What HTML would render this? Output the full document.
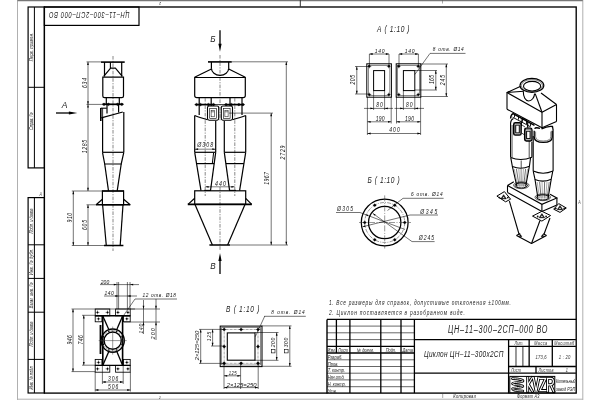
<!DOCTYPE html>
<html><head><meta charset="utf-8"><style>
html,body{margin:0;padding:0;background:#fff;}
svg{display:block;filter:grayscale(1) blur(0.25px);}
text{font-family:"Liberation Sans",sans-serif;}
</style></head><body>
<svg width="600" height="400" viewBox="0 0 600 400">
<rect width="600" height="400" fill="#fff"/>
<line x1="17.50" y1="0.00" x2="17.50" y2="400.00" stroke="#b0b0b0" stroke-width="1" />
<line x1="582.80" y1="0.00" x2="582.80" y2="400.00" stroke="#b0b0b0" stroke-width="1" />
<line x1="17.50" y1="0.60" x2="582.80" y2="0.60" stroke="#777" stroke-width="1.1" />
<line x1="17.50" y1="399.20" x2="582.80" y2="399.20" stroke="#b0b0b0" stroke-width="1" />
<line x1="300.30" y1="0.00" x2="300.30" y2="6.50" stroke="#333" stroke-width="1" />
<text x="0.00" y="0.00" font-size="4" font-style="italic" text-anchor="middle" fill="#111" transform="translate(160.00 2.00) rotate(180) scale(0.8 1)" >2</text>
<line x1="442.50" y1="0.00" x2="442.50" y2="3.50" stroke="#555" stroke-width="0.5" />
<rect x="44.40" y="7.00" width="531.80" height="386.10" rx="0" fill="none" stroke="#000" stroke-width="1.35"/>
<rect x="28.10" y="7.00" width="16.30" height="160.90" rx="0" fill="none" stroke="#000" stroke-width="1.2"/>
<line x1="34.40" y1="7.00" x2="34.40" y2="167.90" stroke="#000" stroke-width="1.0" />
<line x1="28.10" y1="87.30" x2="44.40" y2="87.30" stroke="#000" stroke-width="1.0" />
<rect x="28.10" y="197.60" width="16.30" height="195.40" rx="0" fill="none" stroke="#000" stroke-width="1.2"/>
<line x1="34.40" y1="197.60" x2="34.40" y2="393.00" stroke="#000" stroke-width="1.0" />
<line x1="28.10" y1="244.80" x2="44.40" y2="244.80" stroke="#000" stroke-width="1.0" />
<line x1="28.10" y1="278.40" x2="44.40" y2="278.40" stroke="#000" stroke-width="1.0" />
<line x1="28.10" y1="312.20" x2="44.40" y2="312.20" stroke="#000" stroke-width="1.0" />
<line x1="28.10" y1="359.40" x2="44.40" y2="359.40" stroke="#000" stroke-width="1.0" />
<text x="0.00" y="0.00" font-size="5.8" font-style="italic" text-anchor="middle" fill="#111" transform="translate(33.30 47.00) rotate(-90) scale(0.7 1)" textLength="40.71" lengthAdjust="spacing" >Перв. примен.</text>
<text x="0.00" y="0.00" font-size="5.8" font-style="italic" text-anchor="middle" fill="#111" transform="translate(33.30 121.20) rotate(-90) scale(0.7 1)" textLength="25.14" lengthAdjust="spacing" >Справ. №</text>
<text x="0.00" y="0.00" font-size="5.8" font-style="italic" text-anchor="middle" fill="#111" transform="translate(33.30 221.00) rotate(-90) scale(0.7 1)" textLength="35.71" lengthAdjust="spacing" >Подп. и дата</text>
<text x="0.00" y="0.00" font-size="5.8" font-style="italic" text-anchor="middle" fill="#111" transform="translate(33.30 261.80) rotate(-90) scale(0.7 1)" textLength="37.71" lengthAdjust="spacing" >Инв. № дубл.</text>
<text x="0.00" y="0.00" font-size="5.8" font-style="italic" text-anchor="middle" fill="#111" transform="translate(33.30 295.30) rotate(-90) scale(0.7 1)" textLength="37.14" lengthAdjust="spacing" >Взам. инв. №</text>
<text x="0.00" y="0.00" font-size="5.8" font-style="italic" text-anchor="middle" fill="#111" transform="translate(33.30 333.90) rotate(-90) scale(0.7 1)" textLength="35.71" lengthAdjust="spacing" >Подп. и дата</text>
<text x="0.00" y="0.00" font-size="5.8" font-style="italic" text-anchor="middle" fill="#111" transform="translate(33.30 377.50) rotate(-90) scale(0.7 1)" textLength="34.29" lengthAdjust="spacing" >Инв. № подл.</text>
<text x="0.00" y="0.00" font-size="4.5" font-style="italic" text-anchor="middle" fill="#444" transform="translate(40.60 195.80) scale(0.8 1)" >A</text>
<text x="0.00" y="0.00" font-size="4.5" font-style="italic" text-anchor="middle" fill="#444" transform="translate(579.40 203.50) scale(0.8 1)" >A</text>
<rect x="44.40" y="7.00" width="94.60" height="18.40" rx="0" fill="none" stroke="#000" stroke-width="1.2"/>
<text x="0.00" y="0.00" font-size="9.6" font-style="italic" text-anchor="middle" fill="#222" transform="translate(89.30 12.40) rotate(180) scale(0.6 1)" textLength="134.33" lengthAdjust="spacing" >ЦН–11–300–2СП–000 ВО</text>
<text x="0.00" y="0.00" font-size="4" font-style="italic" text-anchor="middle" fill="#444" transform="translate(160.00 398.50) scale(0.8 1)" >2</text>
<line x1="442.70" y1="394.00" x2="442.70" y2="398.00" stroke="#555" stroke-width="0.5" />
<text x="0.00" y="0.00" font-size="5.2" font-style="italic" text-anchor="start" fill="#222" transform="translate(453.30 398.30) scale(0.8 1)" textLength="28.37" lengthAdjust="spacing" >Копировал</text>
<text x="0.00" y="0.00" font-size="5.2" font-style="italic" text-anchor="start" fill="#222" transform="translate(517.00 398.30) scale(0.72 1)" textLength="31.11" lengthAdjust="spacing" >Формат А3</text>
<g transform="translate(0.4 0.4)">
<line x1="326.60" y1="319.00" x2="575.80" y2="319.00" stroke="#000" stroke-width="1.4" />
<line x1="326.60" y1="319.00" x2="326.60" y2="393.00" stroke="#000" stroke-width="1.4" />
<line x1="349.50" y1="319.00" x2="349.50" y2="392.70" stroke="#000" stroke-width="1.3" />
<line x1="380.40" y1="319.00" x2="380.40" y2="392.70" stroke="#000" stroke-width="1.3" />
<line x1="400.60" y1="319.00" x2="400.60" y2="392.70" stroke="#000" stroke-width="1.3" />
<line x1="414.00" y1="319.00" x2="414.00" y2="392.70" stroke="#000" stroke-width="1.3" />
<line x1="336.00" y1="319.00" x2="336.00" y2="352.60" stroke="#000" stroke-width="1.3" />
<line x1="326.60" y1="325.70" x2="414.00" y2="325.70" stroke="#000" stroke-width="0.6" />
<line x1="326.60" y1="332.40" x2="414.00" y2="332.40" stroke="#000" stroke-width="0.6" />
<line x1="326.60" y1="339.20" x2="414.00" y2="339.20" stroke="#000" stroke-width="0.6" />
<line x1="326.60" y1="345.90" x2="414.00" y2="345.90" stroke="#000" stroke-width="1.3" />
<line x1="326.60" y1="352.60" x2="414.00" y2="352.60" stroke="#000" stroke-width="1.3" />
<line x1="326.60" y1="359.40" x2="414.00" y2="359.40" stroke="#000" stroke-width="0.6" />
<line x1="326.60" y1="366.10" x2="414.00" y2="366.10" stroke="#000" stroke-width="0.6" />
<line x1="326.60" y1="372.80" x2="414.00" y2="372.80" stroke="#000" stroke-width="0.6" />
<line x1="326.60" y1="379.50" x2="414.00" y2="379.50" stroke="#000" stroke-width="0.6" />
<line x1="326.60" y1="386.30" x2="414.00" y2="386.30" stroke="#000" stroke-width="0.6" />
<text x="0.00" y="0.00" font-size="5.2" font-style="italic" text-anchor="middle" fill="#222" transform="translate(331.30 351.40) scale(0.75 1)" >Изм.</text>
<text x="0.00" y="0.00" font-size="5.2" font-style="italic" text-anchor="middle" fill="#222" transform="translate(342.70 351.40) scale(0.75 1)" >Лист</text>
<text x="0.00" y="0.00" font-size="5.2" font-style="italic" text-anchor="middle" fill="#222" transform="translate(365.00 351.40) scale(0.75 1)" >№ докум.</text>
<text x="0.00" y="0.00" font-size="5.2" font-style="italic" text-anchor="middle" fill="#222" transform="translate(390.50 351.40) scale(0.75 1)" >Подп.</text>
<text x="0.00" y="0.00" font-size="5.2" font-style="italic" text-anchor="middle" fill="#222" transform="translate(407.30 351.40) scale(0.75 1)" >Дата</text>
<text x="0.00" y="0.00" font-size="5.4" font-style="italic" text-anchor="start" fill="#222" transform="translate(327.30 358.50) scale(0.75 1)" >Разраб.</text>
<text x="0.00" y="0.00" font-size="5.4" font-style="italic" text-anchor="start" fill="#222" transform="translate(327.30 365.22) scale(0.75 1)" >Пров.</text>
<text x="0.00" y="0.00" font-size="5.4" font-style="italic" text-anchor="start" fill="#222" transform="translate(327.30 371.94) scale(0.75 1)" >Т. контр.</text>
<text x="0.00" y="0.00" font-size="5.4" font-style="italic" text-anchor="start" fill="#222" transform="translate(327.30 378.66) scale(0.75 1)" >Нач.отд.</text>
<text x="0.00" y="0.00" font-size="5.4" font-style="italic" text-anchor="start" fill="#222" transform="translate(327.30 385.38) scale(0.75 1)" >Н. контр.</text>
<text x="0.00" y="0.00" font-size="5.4" font-style="italic" text-anchor="start" fill="#222" transform="translate(327.30 392.10) scale(0.75 1)" >Утв.</text>
<line x1="414.00" y1="339.20" x2="575.50" y2="339.20" stroke="#000" stroke-width="1.3" />
<line x1="414.00" y1="372.80" x2="575.50" y2="372.80" stroke="#000" stroke-width="1.3" />
<line x1="508.20" y1="339.20" x2="508.20" y2="393.00" stroke="#000" stroke-width="1.3" />
<line x1="508.20" y1="345.90" x2="575.50" y2="345.90" stroke="#000" stroke-width="1.3" />
<line x1="508.20" y1="366.10" x2="575.50" y2="366.10" stroke="#000" stroke-width="1.3" />
<line x1="528.75" y1="339.20" x2="528.75" y2="366.10" stroke="#000" stroke-width="1.3" />
<line x1="551.90" y1="339.20" x2="551.90" y2="366.10" stroke="#000" stroke-width="1.3" />
<line x1="515.60" y1="345.90" x2="515.60" y2="366.10" stroke="#000" stroke-width="0.8" />
<line x1="522.50" y1="345.90" x2="522.50" y2="366.10" stroke="#000" stroke-width="0.8" />
<line x1="535.60" y1="366.10" x2="535.60" y2="372.80" stroke="#000" stroke-width="1.3" />
<text x="0.00" y="0.00" font-size="4.8" font-style="italic" text-anchor="middle" fill="#333" transform="translate(518.60 345.00) scale(0.8 1)" >Лит.</text>
<text x="0.00" y="0.00" font-size="4.8" font-style="italic" text-anchor="middle" fill="#333" transform="translate(540.30 345.00) scale(0.8 1)" textLength="16.25" lengthAdjust="spacing" >Масса</text>
<text x="0.00" y="0.00" font-size="4.8" font-style="italic" text-anchor="middle" fill="#333" transform="translate(563.80 345.00) scale(0.8 1)" textLength="25.00" lengthAdjust="spacing" >Масштаб</text>
<text x="0.00" y="0.00" font-size="6" font-style="italic" text-anchor="middle" fill="#333" transform="translate(540.70 358.50) scale(0.7 1)" textLength="15.71" lengthAdjust="spacing" >173,6</text>
<text x="0.00" y="0.00" font-size="6" font-style="italic" text-anchor="middle" fill="#333" transform="translate(564.20 358.50) scale(0.7 1)" textLength="16.43" lengthAdjust="spacing" >1 : 20</text>
<text x="0.00" y="0.00" font-size="4.8" font-style="italic" text-anchor="middle" fill="#333" transform="translate(515.50 371.80) scale(0.8 1)" >Лист</text>
<text x="0.00" y="0.00" font-size="4.8" font-style="italic" text-anchor="middle" fill="#333" transform="translate(545.50 371.80) scale(0.8 1)" textLength="18.75" lengthAdjust="spacing" >Листов</text>
<text x="0.00" y="0.00" font-size="4.8" font-style="italic" text-anchor="middle" fill="#333" transform="translate(566.50 371.80) scale(0.8 1)" >1</text>
<text x="0.00" y="0.00" font-size="10.4" font-style="italic" text-anchor="middle" fill="#222" transform="translate(497.30 332.30) scale(0.7 1)" textLength="142.29" lengthAdjust="spacing" >ЦН–11–300–2СП–000 ВО</text>
<text x="0.00" y="0.00" font-size="9.8" font-style="italic" text-anchor="middle" fill="#222" transform="translate(463.30 357.00) scale(0.66 1)" textLength="120.30" lengthAdjust="spacing" >Циклон ЦН–11–300х2СП</text>
<rect x="509.40" y="376.00" width="45.00" height="16.50" rx="0" fill="none" stroke="#000" stroke-width="1.0"/>
<path d="M527.3,377.3 V390.8 M531.8,377.3 L527.9,383.8 L531.9,390.8 M532.9,377.3 L535.7,390.8 L538.5,377.3 M539.6,377.9 H545.3 L539.6,390.2 H545.5 M547.2,390.8 V377.9 H550.3 Q553,377.9 553,381.2 Q553,384.4 550.3,384.4 H547.3 M550.2,384.4 L553.2,390.8" fill="none" stroke="#000" stroke-width="3.0" stroke-linejoin="miter" stroke-linecap="square"/>
<path d="M527.3,377.3 V390.8 M531.8,377.3 L527.9,383.8 L531.9,390.8 M532.9,377.3 L535.7,390.8 L538.5,377.3 M539.6,377.9 H545.3 L539.6,390.2 H545.5 M547.2,390.8 V377.9 H550.3 Q553,377.9 553,381.2 Q553,384.4 550.3,384.4 H547.3 M550.2,384.4 L553.2,390.8" fill="none" stroke="#fff" stroke-width="1.2" stroke-linejoin="miter" stroke-linecap="square"/>
<path d="M512,378.2 C519,378.2 523.5,379.6 522.5,380.8 C521.5,382 512,381.6 512,383.2 C512,384.8 522.5,384.2 522.5,385.8 C522.5,387.4 512,386.8 512,388.4 C512,390 519,390.6 522.5,390.6" fill="none" stroke="#000" stroke-width="2.6" stroke-linecap="round"/>
<path d="M512,378.2 C519,378.2 523.5,379.6 522.5,380.8 C521.5,382 512,381.6 512,383.2 C512,384.8 522.5,384.2 522.5,385.8 C522.5,387.4 512,386.8 512,388.4 C512,390 519,390.6 522.5,390.6" fill="none" stroke="#fff" stroke-width="0.9" stroke-linecap="round"/>
<text x="0.00" y="0.00" font-size="5.4" font-style="italic" text-anchor="start" fill="#222" transform="translate(555.60 382.80) scale(0.7 1)" textLength="27.71" lengthAdjust="spacing" >Котельный</text>
<text x="0.00" y="0.00" font-size="5.4" font-style="italic" text-anchor="start" fill="#222" transform="translate(555.60 390.40) scale(0.7 1)" textLength="27.43" lengthAdjust="spacing" >завод РЭП</text>
</g>
<text x="0.00" y="0.00" font-size="6.6" font-style="italic" text-anchor="start" fill="#222" transform="translate(328.90 304.90) scale(0.72 1)" textLength="252.78" lengthAdjust="spacing" >1. Все размеры для справок, допустимые отклонения ±100мм.</text>
<text x="0.00" y="0.00" font-size="6.6" font-style="italic" text-anchor="start" fill="#222" transform="translate(328.90 315.30) scale(0.72 1)" textLength="188.89" lengthAdjust="spacing" >2. Циклон поставляется в разобранном виде.</text>
<line x1="113.00" y1="56.00" x2="113.00" y2="251.00" stroke="#6a6a6a" stroke-width="0.8" stroke-dasharray="3.6 1.3 1.2 1.3"/>
<line x1="101.00" y1="62.10" x2="124.70" y2="62.10" stroke="#000" stroke-width="1.6" />
<line x1="104.50" y1="62.00" x2="104.50" y2="76.50" stroke="#000" stroke-width="1.2" />
<line x1="121.70" y1="62.00" x2="121.70" y2="76.50" stroke="#000" stroke-width="1.2" />
<line x1="110.40" y1="62.00" x2="110.40" y2="68.20" stroke="#000" stroke-width="1.1" />
<polyline points="103.70,76.40 110.60,68.20 115.40,68.20 122.30,76.40" fill="none" stroke="#000" stroke-width="1.2" stroke-linejoin="round"/>
<path d="M102.8,77.2 L123.5,77.2 L123.5,96 Q123.5,97.7 121.8,97.7 L104.5,97.7 Q102.8,97.7 102.8,96 Z" fill="none" stroke="#000" stroke-width="1.2" />
<line x1="106.30" y1="97.70" x2="106.30" y2="104.30" stroke="#000" stroke-width="1.2" />
<line x1="119.30" y1="97.70" x2="119.30" y2="104.30" stroke="#000" stroke-width="1.2" />
<line x1="102.50" y1="104.30" x2="123.20" y2="104.30" stroke="#000" stroke-width="1.7" />
<polygon points="102.20,104.30 104.00,102.90 105.80,104.30 104.00,105.70" fill="#000" stroke="#000" stroke-width="0.3" stroke-linejoin="round"/>
<polygon points="106.60,104.30 108.40,102.90 110.20,104.30 108.40,105.70" fill="#000" stroke="#000" stroke-width="0.3" stroke-linejoin="round"/>
<polygon points="115.80,104.30 117.60,102.90 119.40,104.30 117.60,105.70" fill="#000" stroke="#000" stroke-width="0.3" stroke-linejoin="round"/>
<polygon points="120.00,104.30 121.80,102.90 123.60,104.30 121.80,105.70" fill="#000" stroke="#000" stroke-width="0.3" stroke-linejoin="round"/>
<line x1="107.00" y1="104.30" x2="107.00" y2="113.50" stroke="#000" stroke-width="1.2" />
<line x1="118.60" y1="104.30" x2="118.60" y2="112.50" stroke="#000" stroke-width="1.2" />
<line x1="100.80" y1="108.00" x2="100.80" y2="121.00" stroke="#000" stroke-width="1.6" />
<line x1="100.80" y1="108.20" x2="106.80" y2="108.20" stroke="#000" stroke-width="1.1" />
<line x1="102.60" y1="108.20" x2="102.60" y2="117.70" stroke="#000" stroke-width="0.8" />
<line x1="101.30" y1="117.90" x2="122.80" y2="112.00" stroke="#000" stroke-width="1.2" />
<line x1="102.60" y1="117.70" x2="102.60" y2="152.30" stroke="#000" stroke-width="1.2" />
<line x1="123.80" y1="112.00" x2="123.80" y2="152.30" stroke="#000" stroke-width="1.2" />
<line x1="102.50" y1="152.30" x2="123.80" y2="152.30" stroke="#000" stroke-width="1.2" />
<polyline points="102.50,152.30 104.70,164.00 121.20,164.00 123.80,152.30" fill="none" stroke="#000" stroke-width="1.2" stroke-linejoin="round"/>
<polyline points="104.70,164.00 108.50,190.80" fill="none" stroke="#000" stroke-width="1.2" stroke-linejoin="round"/>
<polyline points="121.20,164.00 117.20,190.80" fill="none" stroke="#000" stroke-width="1.2" stroke-linejoin="round"/>
<rect x="102.40" y="191.00" width="21.20" height="13.80" rx="0" fill="none" stroke="#000" stroke-width="1.2"/>
<line x1="102.00" y1="191.00" x2="124.00" y2="191.00" stroke="#000" stroke-width="1.35" />
<polyline points="96.10,204.80 102.40,199.20" fill="none" stroke="#000" stroke-width="1.2" stroke-linejoin="round"/>
<polyline points="123.60,199.20 130.20,204.80" fill="none" stroke="#000" stroke-width="1.2" stroke-linejoin="round"/>
<line x1="96.00" y1="204.80" x2="130.30" y2="204.80" stroke="#000" stroke-width="1.4" />
<polyline points="102.60,204.80 106.30,245.50" fill="none" stroke="#000" stroke-width="1.2" stroke-linejoin="round"/>
<polyline points="123.00,204.80 120.20,245.50" fill="none" stroke="#000" stroke-width="1.2" stroke-linejoin="round"/>
<line x1="104.00" y1="245.50" x2="123.40" y2="245.50" stroke="#000" stroke-width="1.5" />
<line x1="86.50" y1="61.90" x2="101.00" y2="61.90" stroke="#000" stroke-width="0.55" />
<line x1="86.50" y1="104.40" x2="102.00" y2="104.40" stroke="#000" stroke-width="0.55" />
<line x1="71.80" y1="191.00" x2="102.00" y2="191.00" stroke="#000" stroke-width="0.55" />
<line x1="86.50" y1="204.80" x2="96.00" y2="204.80" stroke="#000" stroke-width="0.55" />
<line x1="71.80" y1="245.50" x2="104.00" y2="245.50" stroke="#000" stroke-width="0.55" />
<line x1="88.00" y1="61.90" x2="88.00" y2="191.00" stroke="#000" stroke-width="0.55" />
<polygon points="88.00,61.90 88.90,65.10 87.10,65.10" fill="#000"/>
<polygon points="88.00,104.40 87.10,101.20 88.90,101.20" fill="#000"/>
<polygon points="88.00,104.40 88.90,107.60 87.10,107.60" fill="#000"/>
<polygon points="88.00,191.00 87.10,187.80 88.90,187.80" fill="#000"/>
<text x="0.00" y="0.00" font-size="6.4" font-style="italic" text-anchor="middle" fill="#111" transform="translate(87.20 83.00) rotate(-90) scale(0.8 1)" textLength="12.50" lengthAdjust="spacing" >634</text>
<text x="0.00" y="0.00" font-size="6.4" font-style="italic" text-anchor="middle" fill="#111" transform="translate(87.20 146.60) rotate(-90) scale(0.8 1)" textLength="16.88" lengthAdjust="spacing" >1285</text>
<line x1="73.30" y1="191.00" x2="73.30" y2="245.50" stroke="#000" stroke-width="0.55" />
<polygon points="73.30,191.00 74.20,194.20 72.40,194.20" fill="#000"/>
<polygon points="73.30,245.50 72.40,242.30 74.20,242.30" fill="#000"/>
<text x="0.00" y="0.00" font-size="6.4" font-style="italic" text-anchor="middle" fill="#111" transform="translate(72.40 217.70) rotate(-90) scale(0.8 1)" textLength="12.00" lengthAdjust="spacing" >910</text>
<line x1="88.00" y1="204.80" x2="88.00" y2="245.50" stroke="#000" stroke-width="0.55" />
<polygon points="88.00,204.80 88.90,208.00 87.10,208.00" fill="#000"/>
<polygon points="88.00,245.50 87.10,242.30 88.90,242.30" fill="#000"/>
<text x="0.00" y="0.00" font-size="6.4" font-style="italic" text-anchor="middle" fill="#111" transform="translate(86.60 225.00) rotate(-90) scale(0.8 1)" textLength="12.50" lengthAdjust="spacing" >605</text>
<text x="0.00" y="0.00" font-size="9" font-style="italic" text-anchor="middle" fill="#222" transform="translate(64.60 108.20) scale(0.95 1)" >A</text>
<line x1="56.00" y1="113.00" x2="70.00" y2="113.00" stroke="#000" stroke-width="1.3" />
<polygon points="77.40,113.00 68.90,114.60 68.90,111.40" fill="#000"/>
<line x1="220.00" y1="55.00" x2="220.00" y2="121.00" stroke="#6a6a6a" stroke-width="0.8" stroke-dasharray="3.6 1.3 1.2 1.3"/>
<line x1="220.00" y1="187.00" x2="220.00" y2="251.00" stroke="#6a6a6a" stroke-width="0.8" stroke-dasharray="3.6 1.3 1.2 1.3"/>
<text x="0.00" y="0.00" font-size="8.6" font-style="italic" text-anchor="middle" fill="#222" transform="translate(213.00 42.20) scale(0.95 1)" >Б</text>
<line x1="220.00" y1="30.20" x2="220.00" y2="45.00" stroke="#000" stroke-width="1.3" />
<polygon points="220.00,51.80 218.40,43.80 221.60,43.80" fill="#000"/>
<line x1="208.00" y1="61.90" x2="231.80" y2="61.90" stroke="#000" stroke-width="1.6" />
<line x1="211.40" y1="62.00" x2="211.40" y2="68.50" stroke="#000" stroke-width="1.2" />
<line x1="228.70" y1="62.00" x2="228.70" y2="68.50" stroke="#000" stroke-width="1.2" />
<path d="M211.4,68.3 A8.65,7 0 0 0 228.7,68.3" fill="none" stroke="#000" stroke-width="1.2" />
<line x1="211.40" y1="69.00" x2="194.60" y2="77.30" stroke="#000" stroke-width="1.2" />
<line x1="228.70" y1="69.00" x2="245.30" y2="77.30" stroke="#000" stroke-width="1.2" />
<path d="M194.7,77.5 L245.3,77.5 L245.3,95.5 Q245.3,97.7 243.1,97.7 L196.9,97.7 Q194.7,97.7 194.7,95.5 Z" fill="none" stroke="#000" stroke-width="1.2" />
<line x1="199.20" y1="97.70" x2="199.20" y2="115.00" stroke="#000" stroke-width="1.2" />
<line x1="211.20" y1="97.70" x2="211.20" y2="115.00" stroke="#000" stroke-width="1.2" />
<line x1="230.00" y1="97.70" x2="230.00" y2="115.00" stroke="#000" stroke-width="1.2" />
<line x1="242.00" y1="97.70" x2="242.00" y2="115.00" stroke="#000" stroke-width="1.2" />
<line x1="205.20" y1="98.00" x2="205.20" y2="196.00" stroke="#6a6a6a" stroke-width="0.8" stroke-dasharray="3.6 1.3 1.2 1.3"/>
<line x1="234.80" y1="98.00" x2="234.80" y2="196.00" stroke="#6a6a6a" stroke-width="0.8" stroke-dasharray="3.6 1.3 1.2 1.3"/>
<line x1="196.20" y1="104.60" x2="214.00" y2="104.60" stroke="#000" stroke-width="1.7" />
<line x1="225.60" y1="104.60" x2="243.50" y2="104.60" stroke="#000" stroke-width="1.7" />
<line x1="214.00" y1="104.60" x2="225.60" y2="104.60" stroke="#000" stroke-width="0.8" />
<polygon points="194.60,104.60 196.40,103.20 198.20,104.60 196.40,106.00" fill="#000" stroke="#000" stroke-width="0.3" stroke-linejoin="round"/>
<polygon points="198.60,104.60 200.40,103.20 202.20,104.60 200.40,106.00" fill="#000" stroke="#000" stroke-width="0.3" stroke-linejoin="round"/>
<polygon points="206.60,104.60 208.40,103.20 210.20,104.60 208.40,106.00" fill="#000" stroke="#000" stroke-width="0.3" stroke-linejoin="round"/>
<polygon points="211.80,104.60 213.60,103.20 215.40,104.60 213.60,106.00" fill="#000" stroke="#000" stroke-width="0.3" stroke-linejoin="round"/>
<polygon points="224.20,104.60 226.00,103.20 227.80,104.60 226.00,106.00" fill="#000" stroke="#000" stroke-width="0.3" stroke-linejoin="round"/>
<polygon points="229.50,104.60 231.30,103.20 233.10,104.60 231.30,106.00" fill="#000" stroke="#000" stroke-width="0.3" stroke-linejoin="round"/>
<polygon points="237.10,104.60 238.90,103.20 240.70,104.60 238.90,106.00" fill="#000" stroke="#000" stroke-width="0.3" stroke-linejoin="round"/>
<polygon points="241.20,104.60 243.00,103.20 244.80,104.60 243.00,106.00" fill="#000" stroke="#000" stroke-width="0.3" stroke-linejoin="round"/>
<rect x="207.50" y="106.00" width="11.20" height="14.20" rx="1.6" fill="#fff" stroke="#000" stroke-width="1.1"/>
<rect x="209.70" y="108.60" width="6.60" height="9.80" rx="0" fill="none" stroke="#000" stroke-width="0.6"/>
<rect x="211.10" y="110.40" width="3.20" height="6.40" rx="0" fill="none" stroke="#000" stroke-width="0.5"/>
<line x1="211.10" y1="111.80" x2="214.30" y2="111.80" stroke="#000" stroke-width="0.5" />
<rect x="221.30" y="106.00" width="11.20" height="14.20" rx="1.6" fill="#fff" stroke="#000" stroke-width="1.1"/>
<rect x="223.50" y="108.60" width="6.60" height="9.80" rx="0" fill="none" stroke="#000" stroke-width="0.6"/>
<rect x="224.90" y="110.40" width="3.20" height="6.40" rx="0" fill="none" stroke="#000" stroke-width="0.5"/>
<line x1="224.90" y1="111.80" x2="228.10" y2="111.80" stroke="#000" stroke-width="0.5" />
<line x1="194.70" y1="115.50" x2="194.70" y2="152.30" stroke="#000" stroke-width="1.2" />
<line x1="215.70" y1="121.00" x2="215.70" y2="152.30" stroke="#000" stroke-width="1.2" />
<line x1="224.30" y1="121.00" x2="224.30" y2="152.30" stroke="#000" stroke-width="1.2" />
<line x1="245.70" y1="115.50" x2="245.70" y2="152.30" stroke="#000" stroke-width="1.2" />
<path d="M194.7,115.5 Q199,117.2 207.5,119.8" fill="none" stroke="#000" stroke-width="1.2" />
<path d="M245.7,115.5 Q241,117.2 232.5,119.8" fill="none" stroke="#000" stroke-width="1.2" />
<line x1="194.70" y1="152.30" x2="215.70" y2="152.30" stroke="#000" stroke-width="1.2" />
<line x1="224.30" y1="152.30" x2="245.70" y2="152.30" stroke="#000" stroke-width="1.2" />
<line x1="194.90" y1="149.20" x2="215.50" y2="149.20" stroke="#000" stroke-width="0.5" />
<polygon points="194.90,149.20 198.10,148.30 198.10,150.10" fill="#000"/>
<polygon points="215.50,149.20 212.30,150.10 212.30,148.30" fill="#000"/>
<text x="0.00" y="0.00" font-size="6.6" font-style="italic" text-anchor="middle" fill="#111" transform="translate(205.20 147.20) scale(0.8 1)" textLength="20.00" lengthAdjust="spacing" >Ø308</text>
<line x1="194.70" y1="152.30" x2="201.00" y2="190.60" stroke="#000" stroke-width="1.2" />
<line x1="215.70" y1="152.30" x2="210.50" y2="190.60" stroke="#000" stroke-width="1.2" />
<line x1="196.56" y1="163.60" x2="214.17" y2="163.60" stroke="#000" stroke-width="1.2" />
<line x1="224.30" y1="152.30" x2="229.60" y2="190.60" stroke="#000" stroke-width="1.2" />
<line x1="245.70" y1="152.30" x2="239.60" y2="190.60" stroke="#000" stroke-width="1.2" />
<line x1="225.86" y1="163.60" x2="243.90" y2="163.60" stroke="#000" stroke-width="1.2" />
<line x1="213.60" y1="152.80" x2="212.30" y2="163.60" stroke="#000" stroke-width="1.0" />
<line x1="204.20" y1="190.40" x2="211.00" y2="190.40" stroke="#000" stroke-width="1.1" />
<line x1="229.00" y1="190.40" x2="236.00" y2="190.40" stroke="#000" stroke-width="1.1" />
<line x1="205.40" y1="186.80" x2="234.60" y2="186.80" stroke="#000" stroke-width="0.5" />
<polygon points="205.40,186.80 208.60,185.90 208.60,187.70" fill="#000"/>
<polygon points="234.60,186.80 231.40,187.70 231.40,185.90" fill="#000"/>
<text x="0.00" y="0.00" font-size="6.6" font-style="italic" text-anchor="middle" fill="#111" transform="translate(220.50 185.80) scale(0.8 1)" textLength="13.75" lengthAdjust="spacing" >440</text>
<rect x="194.70" y="190.80" width="51.00" height="13.60" rx="0" fill="none" stroke="#000" stroke-width="1.2"/>
<polyline points="188.00,204.40 194.70,198.30" fill="none" stroke="#000" stroke-width="1.2" stroke-linejoin="round"/>
<polyline points="245.70,198.30 251.70,204.40" fill="none" stroke="#000" stroke-width="1.2" stroke-linejoin="round"/>
<line x1="187.80" y1="204.40" x2="251.80" y2="204.40" stroke="#000" stroke-width="1.6" />
<line x1="195.00" y1="204.40" x2="212.40" y2="245.00" stroke="#000" stroke-width="1.2" />
<line x1="245.00" y1="204.40" x2="227.60" y2="245.00" stroke="#000" stroke-width="1.2" />
<line x1="209.40" y1="245.00" x2="230.00" y2="245.00" stroke="#000" stroke-width="1.5" />
<text x="0.00" y="0.00" font-size="8.6" font-style="italic" text-anchor="middle" fill="#222" transform="translate(213.00 269.20) scale(0.95 1)" >В</text>
<line x1="220.00" y1="259.00" x2="220.00" y2="274.00" stroke="#000" stroke-width="1.3" />
<polygon points="220.00,253.00 221.60,261.00 218.40,261.00" fill="#000"/>
<line x1="232.00" y1="61.80" x2="288.00" y2="61.80" stroke="#000" stroke-width="0.55" />
<line x1="229.00" y1="113.10" x2="273.00" y2="113.10" stroke="#000" stroke-width="0.55" />
<line x1="230.00" y1="245.00" x2="288.00" y2="245.00" stroke="#000" stroke-width="0.55" />
<line x1="286.30" y1="61.80" x2="286.30" y2="245.00" stroke="#000" stroke-width="0.55" />
<polygon points="286.30,61.80 287.20,65.00 285.40,65.00" fill="#000"/>
<polygon points="286.30,245.00 285.40,241.80 287.20,241.80" fill="#000"/>
<line x1="271.20" y1="113.10" x2="271.20" y2="245.00" stroke="#000" stroke-width="0.55" />
<polygon points="271.20,113.10 272.10,116.30 270.30,116.30" fill="#000"/>
<polygon points="271.20,245.00 270.30,241.80 272.10,241.80" fill="#000"/>
<text x="0.00" y="0.00" font-size="6.4" font-style="italic" text-anchor="middle" fill="#111" transform="translate(285.00 152.50) rotate(-90) scale(0.8 1)" textLength="17.25" lengthAdjust="spacing" >2729</text>
<text x="0.00" y="0.00" font-size="6.4" font-style="italic" text-anchor="middle" fill="#111" transform="translate(269.40 178.40) rotate(-90) scale(0.8 1)" textLength="15.62" lengthAdjust="spacing" >1967</text>
<text x="0.00" y="0.00" font-size="9.4" font-style="italic" text-anchor="middle" fill="#222" transform="translate(393.30 31.50) scale(0.7 1)" textLength="46.43" lengthAdjust="spacing" >А ( 1:10 )</text>
<rect x="366.80" y="63.80" width="24.60" height="33.40" rx="0" fill="none" stroke="#000" stroke-width="1.0"/>
<rect x="368.30" y="65.30" width="21.60" height="30.40" rx="0" fill="none" stroke="#000" stroke-width="0.45"/>
<rect x="373.60" y="70.60" width="11.00" height="20.00" rx="0" fill="none" stroke="#000" stroke-width="1.0"/>
<circle cx="369.40" cy="66.40" r="1.15" fill="#000" stroke="#000" stroke-width="0" />
<line x1="367.40" y1="66.40" x2="371.40" y2="66.40" stroke="#000" stroke-width="0.4" />
<line x1="369.40" y1="64.40" x2="369.40" y2="68.40" stroke="#000" stroke-width="0.4" />
<circle cx="369.40" cy="94.60" r="1.15" fill="#000" stroke="#000" stroke-width="0" />
<line x1="367.40" y1="94.60" x2="371.40" y2="94.60" stroke="#000" stroke-width="0.4" />
<line x1="369.40" y1="92.60" x2="369.40" y2="96.60" stroke="#000" stroke-width="0.4" />
<circle cx="388.80" cy="66.40" r="1.15" fill="#000" stroke="#000" stroke-width="0" />
<line x1="386.80" y1="66.40" x2="390.80" y2="66.40" stroke="#000" stroke-width="0.4" />
<line x1="388.80" y1="64.40" x2="388.80" y2="68.40" stroke="#000" stroke-width="0.4" />
<circle cx="388.80" cy="94.60" r="1.15" fill="#000" stroke="#000" stroke-width="0" />
<line x1="386.80" y1="94.60" x2="390.80" y2="94.60" stroke="#000" stroke-width="0.4" />
<line x1="388.80" y1="92.60" x2="388.80" y2="96.60" stroke="#000" stroke-width="0.4" />
<rect x="396.20" y="63.80" width="24.60" height="33.40" rx="0" fill="none" stroke="#000" stroke-width="1.0"/>
<rect x="397.70" y="65.30" width="21.60" height="30.40" rx="0" fill="none" stroke="#000" stroke-width="0.45"/>
<rect x="403.40" y="70.60" width="11.40" height="20.00" rx="0" fill="none" stroke="#000" stroke-width="1.0"/>
<circle cx="398.80" cy="66.40" r="1.15" fill="#000" stroke="#000" stroke-width="0" />
<line x1="396.80" y1="66.40" x2="400.80" y2="66.40" stroke="#000" stroke-width="0.4" />
<line x1="398.80" y1="64.40" x2="398.80" y2="68.40" stroke="#000" stroke-width="0.4" />
<circle cx="398.80" cy="94.60" r="1.15" fill="#000" stroke="#000" stroke-width="0" />
<line x1="396.80" y1="94.60" x2="400.80" y2="94.60" stroke="#000" stroke-width="0.4" />
<line x1="398.80" y1="92.60" x2="398.80" y2="96.60" stroke="#000" stroke-width="0.4" />
<circle cx="418.20" cy="66.40" r="1.15" fill="#000" stroke="#000" stroke-width="0" />
<line x1="416.20" y1="66.40" x2="420.20" y2="66.40" stroke="#000" stroke-width="0.4" />
<line x1="418.20" y1="64.40" x2="418.20" y2="68.40" stroke="#000" stroke-width="0.4" />
<circle cx="418.20" cy="94.60" r="1.15" fill="#000" stroke="#000" stroke-width="0" />
<line x1="416.20" y1="94.60" x2="420.20" y2="94.60" stroke="#000" stroke-width="0.4" />
<line x1="418.20" y1="92.60" x2="418.20" y2="96.60" stroke="#000" stroke-width="0.4" />
<line x1="369.40" y1="54.00" x2="369.40" y2="66.00" stroke="#000" stroke-width="0.55" />
<line x1="389.00" y1="54.00" x2="389.00" y2="66.00" stroke="#000" stroke-width="0.55" />
<line x1="369.40" y1="54.00" x2="389.00" y2="54.00" stroke="#000" stroke-width="0.55" />
<polygon points="369.40,54.00 372.60,53.10 372.60,54.90" fill="#000"/>
<polygon points="389.00,54.00 385.80,54.90 385.80,53.10" fill="#000"/>
<text x="0.00" y="0.00" font-size="6.2" font-style="italic" text-anchor="middle" fill="#111" transform="translate(379.70 52.80) scale(0.8 1)" textLength="12.25" lengthAdjust="spacing" >140</text>
<line x1="399.00" y1="54.00" x2="399.00" y2="66.00" stroke="#000" stroke-width="0.55" />
<line x1="418.40" y1="54.00" x2="418.40" y2="66.00" stroke="#000" stroke-width="0.55" />
<line x1="399.00" y1="54.00" x2="418.40" y2="54.00" stroke="#000" stroke-width="0.55" />
<polygon points="399.00,54.00 402.20,53.10 402.20,54.90" fill="#000"/>
<polygon points="418.40,54.00 415.20,54.90 415.20,53.10" fill="#000"/>
<text x="0.00" y="0.00" font-size="6.2" font-style="italic" text-anchor="middle" fill="#111" transform="translate(409.60 52.80) scale(0.8 1)" textLength="12.25" lengthAdjust="spacing" >140</text>
<text x="0.00" y="0.00" font-size="6.0" font-style="italic" text-anchor="middle" fill="#111" transform="translate(448.30 51.00) scale(0.8 1)" textLength="38.75" lengthAdjust="spacing" >8 отв. Ø14</text>
<line x1="430.00" y1="53.40" x2="465.50" y2="53.40" stroke="#000" stroke-width="0.55" />
<line x1="430.00" y1="53.40" x2="414.80" y2="74.50" stroke="#000" stroke-width="0.55" />
<line x1="355.00" y1="66.50" x2="369.00" y2="66.50" stroke="#000" stroke-width="0.55" />
<line x1="355.00" y1="94.00" x2="369.00" y2="94.00" stroke="#000" stroke-width="0.55" />
<line x1="356.80" y1="66.50" x2="356.80" y2="94.00" stroke="#000" stroke-width="0.55" />
<polygon points="356.80,66.50 357.70,69.70 355.90,69.70" fill="#000"/>
<polygon points="356.80,94.00 355.90,90.80 357.70,90.80" fill="#000"/>
<text x="0.00" y="0.00" font-size="6.3" font-style="italic" text-anchor="middle" fill="#111" transform="translate(355.40 79.80) rotate(-90) scale(0.8 1)" textLength="11.88" lengthAdjust="spacing" >205</text>
<line x1="414.80" y1="70.50" x2="437.00" y2="70.50" stroke="#000" stroke-width="0.55" />
<line x1="414.80" y1="90.00" x2="437.00" y2="90.00" stroke="#000" stroke-width="0.55" />
<line x1="435.80" y1="70.50" x2="435.80" y2="90.00" stroke="#000" stroke-width="0.55" />
<polygon points="435.80,70.50 436.70,73.70 434.90,73.70" fill="#000"/>
<polygon points="435.80,90.00 434.90,86.80 436.70,86.80" fill="#000"/>
<text x="0.00" y="0.00" font-size="6.3" font-style="italic" text-anchor="middle" fill="#111" transform="translate(434.30 79.50) rotate(-90) scale(0.8 1)" textLength="11.50" lengthAdjust="spacing" >165</text>
<line x1="420.80" y1="64.00" x2="448.00" y2="64.00" stroke="#000" stroke-width="0.55" />
<line x1="420.80" y1="96.50" x2="448.00" y2="96.50" stroke="#000" stroke-width="0.55" />
<line x1="446.30" y1="64.00" x2="446.30" y2="96.50" stroke="#000" stroke-width="0.55" />
<polygon points="446.30,64.00 447.20,67.20 445.40,67.20" fill="#000"/>
<polygon points="446.30,96.50 445.40,93.30 447.20,93.30" fill="#000"/>
<text x="0.00" y="0.00" font-size="6.3" font-style="italic" text-anchor="middle" fill="#111" transform="translate(444.50 80.20) rotate(-90) scale(0.8 1)" textLength="12.88" lengthAdjust="spacing" >245</text>
<line x1="373.60" y1="91.00" x2="373.60" y2="110.00" stroke="#000" stroke-width="0.55" />
<line x1="384.60" y1="91.00" x2="384.60" y2="110.00" stroke="#000" stroke-width="0.55" />
<line x1="403.40" y1="91.00" x2="403.40" y2="110.00" stroke="#000" stroke-width="0.55" />
<line x1="414.80" y1="91.00" x2="414.80" y2="110.00" stroke="#000" stroke-width="0.55" />
<line x1="391.20" y1="97.00" x2="391.20" y2="123.50" stroke="#000" stroke-width="0.55" />
<line x1="396.50" y1="97.00" x2="396.50" y2="123.50" stroke="#000" stroke-width="0.55" />
<line x1="367.40" y1="97.00" x2="367.40" y2="135.00" stroke="#000" stroke-width="0.55" />
<line x1="420.60" y1="97.00" x2="420.60" y2="135.00" stroke="#000" stroke-width="0.55" />
<line x1="364.00" y1="108.40" x2="393.00" y2="108.40" stroke="#000" stroke-width="0.55" />
<polygon points="373.60,108.40 370.40,109.30 370.40,107.50" fill="#000"/>
<polygon points="384.60,108.40 387.80,107.50 387.80,109.30" fill="#000"/>
<line x1="394.50" y1="108.40" x2="424.00" y2="108.40" stroke="#000" stroke-width="0.55" />
<polygon points="403.40,108.40 400.20,109.30 400.20,107.50" fill="#000"/>
<polygon points="414.80,108.40 418.00,107.50 418.00,109.30" fill="#000"/>
<text x="0.00" y="0.00" font-size="6.3" font-style="italic" text-anchor="middle" fill="#111" transform="translate(379.50 106.80) scale(0.8 1)" textLength="8.12" lengthAdjust="spacing" >80</text>
<text x="0.00" y="0.00" font-size="6.3" font-style="italic" text-anchor="middle" fill="#111" transform="translate(409.20 106.80) scale(0.8 1)" textLength="8.12" lengthAdjust="spacing" >80</text>
<line x1="367.40" y1="121.80" x2="391.20" y2="121.80" stroke="#000" stroke-width="0.55" />
<polygon points="367.40,121.80 370.60,120.90 370.60,122.70" fill="#000"/>
<polygon points="391.20,121.80 388.00,122.70 388.00,120.90" fill="#000"/>
<line x1="396.50" y1="121.80" x2="420.60" y2="121.80" stroke="#000" stroke-width="0.55" />
<polygon points="396.50,121.80 399.70,120.90 399.70,122.70" fill="#000"/>
<polygon points="420.60,121.80 417.40,122.70 417.40,120.90" fill="#000"/>
<text x="0.00" y="0.00" font-size="6.3" font-style="italic" text-anchor="middle" fill="#111" transform="translate(380.10 120.70) scale(0.8 1)" textLength="11.00" lengthAdjust="spacing" >190</text>
<text x="0.00" y="0.00" font-size="6.3" font-style="italic" text-anchor="middle" fill="#111" transform="translate(409.50 120.70) scale(0.8 1)" textLength="11.25" lengthAdjust="spacing" >190</text>
<line x1="367.40" y1="133.50" x2="420.60" y2="133.50" stroke="#000" stroke-width="0.55" />
<polygon points="367.40,133.50 370.60,132.60 370.60,134.40" fill="#000"/>
<polygon points="420.60,133.50 417.40,134.40 417.40,132.60" fill="#000"/>
<text x="0.00" y="0.00" font-size="6.3" font-style="italic" text-anchor="middle" fill="#111" transform="translate(394.50 132.20) scale(0.8 1)" textLength="13.12" lengthAdjust="spacing" >400</text>
<text x="0.00" y="0.00" font-size="9.4" font-style="italic" text-anchor="middle" fill="#222" transform="translate(383.60 183.10) scale(0.7 1)" textLength="46.00" lengthAdjust="spacing" >Б ( 1:10 )</text>
<circle cx="384.70" cy="222.50" r="23.40" fill="none" stroke="#000" stroke-width="1.25" />
<circle cx="384.70" cy="222.50" r="16.20" fill="none" stroke="#000" stroke-width="1.25" />
<circle cx="384.70" cy="222.50" r="20.00" fill="none" stroke="#333" stroke-width="0.5" stroke-dasharray="4 1.2 1 1.2"/>
<line x1="359.00" y1="222.50" x2="411.00" y2="222.50" stroke="#333" stroke-width="0.5" stroke-dasharray="6 1.5 1 1.5"/>
<line x1="384.70" y1="195.40" x2="384.70" y2="248.50" stroke="#333" stroke-width="0.5" stroke-dasharray="6 1.5 1 1.5"/>
<circle cx="404.70" cy="222.50" r="1.30" fill="#000" stroke="#000" stroke-width="0" />
<line x1="402.70" y1="222.50" x2="406.70" y2="222.50" stroke="#000" stroke-width="0.4" />
<line x1="404.70" y1="220.50" x2="404.70" y2="224.50" stroke="#000" stroke-width="0.4" />
<circle cx="394.70" cy="239.82" r="1.30" fill="#000" stroke="#000" stroke-width="0" />
<line x1="392.70" y1="239.82" x2="396.70" y2="239.82" stroke="#000" stroke-width="0.4" />
<line x1="394.70" y1="237.82" x2="394.70" y2="241.82" stroke="#000" stroke-width="0.4" />
<circle cx="374.70" cy="239.82" r="1.30" fill="#000" stroke="#000" stroke-width="0" />
<line x1="372.70" y1="239.82" x2="376.70" y2="239.82" stroke="#000" stroke-width="0.4" />
<line x1="374.70" y1="237.82" x2="374.70" y2="241.82" stroke="#000" stroke-width="0.4" />
<circle cx="364.70" cy="222.50" r="1.30" fill="#000" stroke="#000" stroke-width="0" />
<line x1="362.70" y1="222.50" x2="366.70" y2="222.50" stroke="#000" stroke-width="0.4" />
<line x1="364.70" y1="220.50" x2="364.70" y2="224.50" stroke="#000" stroke-width="0.4" />
<circle cx="374.70" cy="205.18" r="1.30" fill="#000" stroke="#000" stroke-width="0" />
<line x1="372.70" y1="205.18" x2="376.70" y2="205.18" stroke="#000" stroke-width="0.4" />
<line x1="374.70" y1="203.18" x2="374.70" y2="207.18" stroke="#000" stroke-width="0.4" />
<circle cx="394.70" cy="205.18" r="1.30" fill="#000" stroke="#000" stroke-width="0" />
<line x1="392.70" y1="205.18" x2="396.70" y2="205.18" stroke="#000" stroke-width="0.4" />
<line x1="394.70" y1="203.18" x2="394.70" y2="207.18" stroke="#000" stroke-width="0.4" />
<line x1="336.00" y1="212.50" x2="360.00" y2="212.50" stroke="#000" stroke-width="0.55" />
<line x1="360.00" y1="212.50" x2="405.00" y2="229.50" stroke="#000" stroke-width="0.55" />
<polygon points="365.30,214.50 368.21,214.70 367.66,216.20" fill="#000"/>
<line x1="438.00" y1="215.00" x2="410.00" y2="215.00" stroke="#000" stroke-width="0.55" />
<line x1="410.00" y1="215.00" x2="362.50" y2="226.80" stroke="#000" stroke-width="0.55" />
<polygon points="362.60,226.80 365.13,225.35 365.51,226.90" fill="#000"/>
<line x1="412.00" y1="241.60" x2="434.60" y2="241.60" stroke="#000" stroke-width="0.55" />
<line x1="412.00" y1="241.60" x2="372.70" y2="213.30" stroke="#000" stroke-width="0.55" />
<polygon points="372.90,213.40 375.64,214.38 374.71,215.68" fill="#000"/>
<line x1="403.00" y1="198.30" x2="443.60" y2="198.30" stroke="#000" stroke-width="0.55" />
<line x1="403.00" y1="198.30" x2="387.50" y2="210.50" stroke="#000" stroke-width="0.55" />
<text x="0.00" y="0.00" font-size="6.3" font-style="italic" text-anchor="middle" fill="#111" transform="translate(345.00 210.60) scale(0.8 1)" textLength="20.00" lengthAdjust="spacing" >Ø305</text>
<text x="0.00" y="0.00" font-size="6.3" font-style="italic" text-anchor="middle" fill="#111" transform="translate(428.70 213.50) scale(0.8 1)" textLength="21.25" lengthAdjust="spacing" >Ø345</text>
<text x="0.00" y="0.00" font-size="6.3" font-style="italic" text-anchor="middle" fill="#111" transform="translate(426.40 240.20) scale(0.8 1)" textLength="19.38" lengthAdjust="spacing" >Ø245</text>
<text x="0.00" y="0.00" font-size="6.0" font-style="italic" text-anchor="middle" fill="#111" transform="translate(426.80 196.20) scale(0.8 1)" textLength="39.38" lengthAdjust="spacing" >6 отв. Ø14</text>
<line x1="71.50" y1="309.00" x2="135.00" y2="309.00" stroke="#000" stroke-width="0.55" />
<line x1="82.00" y1="315.30" x2="95.00" y2="315.30" stroke="#000" stroke-width="0.55" />
<line x1="82.00" y1="365.20" x2="95.00" y2="365.20" stroke="#000" stroke-width="0.55" />
<line x1="71.50" y1="371.60" x2="95.00" y2="371.60" stroke="#000" stroke-width="0.55" />
<line x1="130.00" y1="309.00" x2="160.00" y2="309.00" stroke="#000" stroke-width="0.55" />
<line x1="124.00" y1="322.00" x2="160.00" y2="322.00" stroke="#000" stroke-width="0.55" />
<line x1="73.00" y1="309.00" x2="73.00" y2="371.60" stroke="#000" stroke-width="0.55" />
<polygon points="73.00,309.00 73.90,312.20 72.10,312.20" fill="#000"/>
<polygon points="73.00,371.60 72.10,368.40 73.90,368.40" fill="#000"/>
<text x="0.00" y="0.00" font-size="6.4" font-style="italic" text-anchor="middle" fill="#111" transform="translate(72.00 339.80) rotate(-90) scale(0.8 1)" textLength="11.88" lengthAdjust="spacing" >946</text>
<line x1="83.80" y1="315.30" x2="83.80" y2="365.20" stroke="#000" stroke-width="0.55" />
<polygon points="83.80,315.30 84.70,318.50 82.90,318.50" fill="#000"/>
<polygon points="83.80,365.20 82.90,362.00 84.70,362.00" fill="#000"/>
<text x="0.00" y="0.00" font-size="6.4" font-style="italic" text-anchor="middle" fill="#111" transform="translate(82.50 339.80) rotate(-90) scale(0.8 1)" textLength="11.88" lengthAdjust="spacing" >746</text>
<rect x="95.20" y="309.00" width="14.60" height="6.80" rx="0" fill="none" stroke="#000" stroke-width="0.85"/>
<rect x="95.20" y="315.80" width="6.70" height="6.00" rx="0" fill="none" stroke="#000" stroke-width="0.85"/>
<circle cx="97.50" cy="312.40" r="0.90" fill="#000" stroke="#000" stroke-width="0" />
<line x1="95.50" y1="312.40" x2="99.50" y2="312.40" stroke="#000" stroke-width="0.4" />
<line x1="97.50" y1="310.40" x2="97.50" y2="314.40" stroke="#000" stroke-width="0.4" />
<circle cx="107.50" cy="312.40" r="0.90" fill="#000" stroke="#000" stroke-width="0" />
<line x1="105.50" y1="312.40" x2="109.50" y2="312.40" stroke="#000" stroke-width="0.4" />
<line x1="107.50" y1="310.40" x2="107.50" y2="314.40" stroke="#000" stroke-width="0.4" />
<circle cx="98.50" cy="318.80" r="0.90" fill="#000" stroke="#000" stroke-width="0" />
<line x1="96.50" y1="318.80" x2="100.50" y2="318.80" stroke="#000" stroke-width="0.4" />
<line x1="98.50" y1="316.80" x2="98.50" y2="320.80" stroke="#000" stroke-width="0.4" />
<rect x="115.60" y="309.00" width="14.60" height="6.80" rx="0" fill="none" stroke="#000" stroke-width="0.85"/>
<rect x="123.50" y="315.80" width="6.70" height="6.00" rx="0" fill="none" stroke="#000" stroke-width="0.85"/>
<circle cx="117.90" cy="312.40" r="0.90" fill="#000" stroke="#000" stroke-width="0" />
<line x1="115.90" y1="312.40" x2="119.90" y2="312.40" stroke="#000" stroke-width="0.4" />
<line x1="117.90" y1="310.40" x2="117.90" y2="314.40" stroke="#000" stroke-width="0.4" />
<circle cx="127.90" cy="312.40" r="0.90" fill="#000" stroke="#000" stroke-width="0" />
<line x1="125.90" y1="312.40" x2="129.90" y2="312.40" stroke="#000" stroke-width="0.4" />
<line x1="127.90" y1="310.40" x2="127.90" y2="314.40" stroke="#000" stroke-width="0.4" />
<circle cx="126.80" cy="318.80" r="0.90" fill="#000" stroke="#000" stroke-width="0" />
<line x1="124.80" y1="318.80" x2="128.80" y2="318.80" stroke="#000" stroke-width="0.4" />
<line x1="126.80" y1="316.80" x2="126.80" y2="320.80" stroke="#000" stroke-width="0.4" />
<rect x="95.20" y="365.40" width="14.60" height="6.80" rx="0" fill="none" stroke="#000" stroke-width="0.85"/>
<rect x="95.20" y="359.40" width="6.70" height="6.00" rx="0" fill="none" stroke="#000" stroke-width="0.85"/>
<circle cx="97.50" cy="368.80" r="0.90" fill="#000" stroke="#000" stroke-width="0" />
<line x1="95.50" y1="368.80" x2="99.50" y2="368.80" stroke="#000" stroke-width="0.4" />
<line x1="97.50" y1="366.80" x2="97.50" y2="370.80" stroke="#000" stroke-width="0.4" />
<circle cx="107.50" cy="368.80" r="0.90" fill="#000" stroke="#000" stroke-width="0" />
<line x1="105.50" y1="368.80" x2="109.50" y2="368.80" stroke="#000" stroke-width="0.4" />
<line x1="107.50" y1="366.80" x2="107.50" y2="370.80" stroke="#000" stroke-width="0.4" />
<circle cx="98.50" cy="362.40" r="0.90" fill="#000" stroke="#000" stroke-width="0" />
<line x1="96.50" y1="362.40" x2="100.50" y2="362.40" stroke="#000" stroke-width="0.4" />
<line x1="98.50" y1="360.40" x2="98.50" y2="364.40" stroke="#000" stroke-width="0.4" />
<rect x="115.60" y="365.40" width="14.60" height="6.80" rx="0" fill="none" stroke="#000" stroke-width="0.85"/>
<rect x="123.50" y="359.40" width="6.70" height="6.00" rx="0" fill="none" stroke="#000" stroke-width="0.85"/>
<circle cx="117.90" cy="368.80" r="0.90" fill="#000" stroke="#000" stroke-width="0" />
<line x1="115.90" y1="368.80" x2="119.90" y2="368.80" stroke="#000" stroke-width="0.4" />
<line x1="117.90" y1="366.80" x2="117.90" y2="370.80" stroke="#000" stroke-width="0.4" />
<circle cx="127.90" cy="368.80" r="0.90" fill="#000" stroke="#000" stroke-width="0" />
<line x1="125.90" y1="368.80" x2="129.90" y2="368.80" stroke="#000" stroke-width="0.4" />
<line x1="127.90" y1="366.80" x2="127.90" y2="370.80" stroke="#000" stroke-width="0.4" />
<circle cx="126.80" cy="362.40" r="0.90" fill="#000" stroke="#000" stroke-width="0" />
<line x1="124.80" y1="362.40" x2="128.80" y2="362.40" stroke="#000" stroke-width="0.4" />
<line x1="126.80" y1="360.40" x2="126.80" y2="364.40" stroke="#000" stroke-width="0.4" />
<line x1="102.80" y1="315.80" x2="102.80" y2="365.40" stroke="#000" stroke-width="1.6" />
<line x1="122.60" y1="315.80" x2="122.60" y2="365.40" stroke="#000" stroke-width="1.6" />
<line x1="95.20" y1="315.80" x2="130.20" y2="315.80" stroke="#000" stroke-width="1.4" />
<line x1="95.20" y1="365.40" x2="130.20" y2="365.40" stroke="#000" stroke-width="1.4" />
<polyline points="102.80,316.00 108.80,329.60" fill="none" stroke="#000" stroke-width="1.3" stroke-linejoin="round"/>
<polyline points="122.60,316.00 116.80,329.60" fill="none" stroke="#000" stroke-width="1.3" stroke-linejoin="round"/>
<polyline points="102.80,365.20 108.80,351.60" fill="none" stroke="#000" stroke-width="1.3" stroke-linejoin="round"/>
<polyline points="122.60,365.20 116.80,351.60" fill="none" stroke="#000" stroke-width="1.3" stroke-linejoin="round"/>
<line x1="100.50" y1="325.00" x2="100.50" y2="354.00" stroke="#000" stroke-width="1.8" />
<circle cx="112.70" cy="340.60" r="11.60" fill="none" stroke="#000" stroke-width="1.4" />
<circle cx="112.70" cy="340.60" r="8.60" fill="none" stroke="#000" stroke-width="1.4" />
<circle cx="112.70" cy="340.60" r="10.10" fill="none" stroke="#333" stroke-width="0.4" stroke-dasharray="2 1"/>
<circle cx="122.03" cy="344.47" r="0.80" fill="#000" stroke="#000" stroke-width="0" />
<circle cx="116.57" cy="349.93" r="0.80" fill="#000" stroke="#000" stroke-width="0" />
<circle cx="108.83" cy="349.93" r="0.80" fill="#000" stroke="#000" stroke-width="0" />
<circle cx="103.37" cy="344.47" r="0.80" fill="#000" stroke="#000" stroke-width="0" />
<circle cx="103.37" cy="336.73" r="0.80" fill="#000" stroke="#000" stroke-width="0" />
<circle cx="108.83" cy="331.27" r="0.80" fill="#000" stroke="#000" stroke-width="0" />
<circle cx="116.57" cy="331.27" r="0.80" fill="#000" stroke="#000" stroke-width="0" />
<circle cx="122.03" cy="336.73" r="0.80" fill="#000" stroke="#000" stroke-width="0" />
<line x1="98.70" y1="340.60" x2="126.70" y2="340.60" stroke="#333" stroke-width="0.5" />
<line x1="112.70" y1="326.60" x2="112.70" y2="354.60" stroke="#333" stroke-width="0.5" />
<line x1="117.00" y1="282.00" x2="117.00" y2="309.00" stroke="#000" stroke-width="0.55" />
<line x1="118.60" y1="282.00" x2="118.60" y2="309.00" stroke="#000" stroke-width="0.55" />
<line x1="127.40" y1="282.00" x2="127.40" y2="309.00" stroke="#000" stroke-width="0.55" />
<line x1="130.00" y1="282.00" x2="130.00" y2="309.00" stroke="#000" stroke-width="0.55" />
<line x1="100.00" y1="284.60" x2="139.00" y2="284.60" stroke="#000" stroke-width="0.55" />
<polygon points="117.00,284.60 113.80,285.50 113.80,283.70" fill="#000"/>
<polygon points="130.00,284.60 133.20,283.70 133.20,285.50" fill="#000"/>
<line x1="104.00" y1="296.00" x2="137.00" y2="296.00" stroke="#000" stroke-width="0.55" />
<polygon points="118.60,296.00 115.40,296.90 115.40,295.10" fill="#000"/>
<polygon points="127.40,296.00 130.60,295.10 130.60,296.90" fill="#000"/>
<text x="0.00" y="0.00" font-size="6.2" font-style="italic" text-anchor="middle" fill="#111" transform="translate(105.00 283.80) scale(0.8 1)" textLength="10.62" lengthAdjust="spacing" >200</text>
<text x="0.00" y="0.00" font-size="6.2" font-style="italic" text-anchor="middle" fill="#111" transform="translate(109.20 295.20) scale(0.8 1)" textLength="11.62" lengthAdjust="spacing" >140</text>
<text x="0.00" y="0.00" font-size="6.0" font-style="italic" text-anchor="middle" fill="#111" transform="translate(159.20 296.80) scale(0.8 1)" textLength="41.75" lengthAdjust="spacing" >12 отв. Ø18</text>
<line x1="135.00" y1="299.00" x2="177.00" y2="299.00" stroke="#000" stroke-width="0.55" />
<line x1="135.00" y1="299.00" x2="122.20" y2="317.50" stroke="#000" stroke-width="0.55" />
<line x1="143.50" y1="300.00" x2="143.50" y2="334.00" stroke="#000" stroke-width="0.55" />
<polygon points="143.50,309.00 142.60,305.80 144.40,305.80" fill="#000"/>
<polygon points="143.50,322.00 144.40,325.20 142.60,325.20" fill="#000"/>
<line x1="156.00" y1="299.00" x2="156.00" y2="340.00" stroke="#000" stroke-width="0.55" />
<polygon points="156.00,309.00 155.10,305.80 156.90,305.80" fill="#000"/>
<polygon points="156.00,322.00 156.90,325.20 155.10,325.20" fill="#000"/>
<text x="0.00" y="0.00" font-size="6.2" font-style="italic" text-anchor="middle" fill="#111" transform="translate(142.50 328.60) rotate(-90) scale(0.8 1)" textLength="12.25" lengthAdjust="spacing" >140</text>
<text x="0.00" y="0.00" font-size="6.2" font-style="italic" text-anchor="middle" fill="#111" transform="translate(155.00 333.70) rotate(-90) scale(0.8 1)" textLength="13.75" lengthAdjust="spacing" >200</text>
<line x1="102.40" y1="366.00" x2="102.40" y2="384.00" stroke="#000" stroke-width="0.55" />
<line x1="123.20" y1="366.00" x2="123.20" y2="384.00" stroke="#000" stroke-width="0.55" />
<line x1="95.20" y1="372.00" x2="95.20" y2="391.50" stroke="#000" stroke-width="0.55" />
<line x1="130.40" y1="372.00" x2="130.40" y2="391.50" stroke="#000" stroke-width="0.55" />
<line x1="102.40" y1="382.00" x2="123.20" y2="382.00" stroke="#000" stroke-width="0.55" />
<polygon points="102.40,382.00 105.60,381.10 105.60,382.90" fill="#000"/>
<polygon points="123.20,382.00 120.00,382.90 120.00,381.10" fill="#000"/>
<text x="0.00" y="0.00" font-size="6.3" font-style="italic" text-anchor="middle" fill="#111" transform="translate(113.10 380.60) scale(0.8 1)" textLength="12.75" lengthAdjust="spacing" >306</text>
<line x1="95.20" y1="390.00" x2="130.40" y2="390.00" stroke="#000" stroke-width="0.55" />
<polygon points="95.20,390.00 98.40,389.10 98.40,390.90" fill="#000"/>
<polygon points="130.40,390.00 127.20,390.90 127.20,389.10" fill="#000"/>
<text x="0.00" y="0.00" font-size="6.3" font-style="italic" text-anchor="middle" fill="#111" transform="translate(113.10 388.80) scale(0.8 1)" textLength="12.75" lengthAdjust="spacing" >506</text>
<text x="0.00" y="0.00" font-size="9.4" font-style="italic" text-anchor="middle" fill="#222" transform="translate(242.70 312.10) scale(0.7 1)" textLength="47.71" lengthAdjust="spacing" >В ( 1:10 )</text>
<rect x="220.20" y="326.10" width="41.80" height="40.50" rx="0" fill="none" stroke="#000" stroke-width="1.05"/>
<rect x="221.80" y="327.70" width="38.60" height="37.30" rx="0" fill="none" stroke="#000" stroke-width="0.45"/>
<rect x="227.30" y="332.90" width="27.70" height="27.30" rx="0" fill="none" stroke="#000" stroke-width="1.1"/>
<line x1="221.60" y1="329.50" x2="260.60" y2="329.50" stroke="#444" stroke-width="0.45" stroke-dasharray="3 1"/>
<line x1="221.60" y1="363.30" x2="260.60" y2="363.30" stroke="#444" stroke-width="0.45" stroke-dasharray="3 1"/>
<line x1="224.20" y1="327.50" x2="224.20" y2="365.20" stroke="#444" stroke-width="0.45" stroke-dasharray="3 1"/>
<line x1="258.00" y1="327.50" x2="258.00" y2="365.20" stroke="#444" stroke-width="0.45" stroke-dasharray="3 1"/>
<circle cx="224.20" cy="329.50" r="1.35" fill="#000" stroke="#000" stroke-width="0" />
<line x1="222.20" y1="329.50" x2="226.20" y2="329.50" stroke="#000" stroke-width="0.4" />
<line x1="224.20" y1="327.50" x2="224.20" y2="331.50" stroke="#000" stroke-width="0.4" />
<circle cx="224.20" cy="346.60" r="1.35" fill="#000" stroke="#000" stroke-width="0" />
<line x1="222.20" y1="346.60" x2="226.20" y2="346.60" stroke="#000" stroke-width="0.4" />
<line x1="224.20" y1="344.60" x2="224.20" y2="348.60" stroke="#000" stroke-width="0.4" />
<circle cx="224.20" cy="363.30" r="1.35" fill="#000" stroke="#000" stroke-width="0" />
<line x1="222.20" y1="363.30" x2="226.20" y2="363.30" stroke="#000" stroke-width="0.4" />
<line x1="224.20" y1="361.30" x2="224.20" y2="365.30" stroke="#000" stroke-width="0.4" />
<circle cx="241.10" cy="329.50" r="1.35" fill="#000" stroke="#000" stroke-width="0" />
<line x1="239.10" y1="329.50" x2="243.10" y2="329.50" stroke="#000" stroke-width="0.4" />
<line x1="241.10" y1="327.50" x2="241.10" y2="331.50" stroke="#000" stroke-width="0.4" />
<circle cx="241.10" cy="363.30" r="1.35" fill="#000" stroke="#000" stroke-width="0" />
<line x1="239.10" y1="363.30" x2="243.10" y2="363.30" stroke="#000" stroke-width="0.4" />
<line x1="241.10" y1="361.30" x2="241.10" y2="365.30" stroke="#000" stroke-width="0.4" />
<circle cx="258.00" cy="329.50" r="1.35" fill="#000" stroke="#000" stroke-width="0" />
<line x1="256.00" y1="329.50" x2="260.00" y2="329.50" stroke="#000" stroke-width="0.4" />
<line x1="258.00" y1="327.50" x2="258.00" y2="331.50" stroke="#000" stroke-width="0.4" />
<circle cx="258.00" cy="346.60" r="1.35" fill="#000" stroke="#000" stroke-width="0" />
<line x1="256.00" y1="346.60" x2="260.00" y2="346.60" stroke="#000" stroke-width="0.4" />
<line x1="258.00" y1="344.60" x2="258.00" y2="348.60" stroke="#000" stroke-width="0.4" />
<circle cx="258.00" cy="363.30" r="1.35" fill="#000" stroke="#000" stroke-width="0" />
<line x1="256.00" y1="363.30" x2="260.00" y2="363.30" stroke="#000" stroke-width="0.4" />
<line x1="258.00" y1="361.30" x2="258.00" y2="365.30" stroke="#000" stroke-width="0.4" />
<text x="0.00" y="0.00" font-size="6" font-style="italic" text-anchor="middle" fill="#111" transform="translate(288.00 314.00) scale(0.8 1)" textLength="41.62" lengthAdjust="spacing" >8 отв. Ø14</text>
<line x1="264.30" y1="316.30" x2="305.80" y2="316.30" stroke="#000" stroke-width="0.55" />
<line x1="264.80" y1="316.00" x2="255.30" y2="336.60" stroke="#000" stroke-width="0.55" />
<line x1="199.00" y1="329.40" x2="224.00" y2="329.40" stroke="#000" stroke-width="0.55" />
<line x1="199.00" y1="363.40" x2="224.00" y2="363.40" stroke="#000" stroke-width="0.55" />
<line x1="211.00" y1="346.00" x2="224.00" y2="346.00" stroke="#000" stroke-width="0.55" />
<line x1="200.70" y1="329.40" x2="200.70" y2="363.40" stroke="#000" stroke-width="0.55" />
<polygon points="200.70,329.40 201.60,332.60 199.80,332.60" fill="#000"/>
<polygon points="200.70,363.40 199.80,360.20 201.60,360.20" fill="#000"/>
<text x="0.00" y="0.00" font-size="6" font-style="italic" text-anchor="middle" fill="#111" transform="translate(199.30 345.50) rotate(-90) scale(0.8 1)" textLength="37.12" lengthAdjust="spacingAndGlyphs" >2×125=250</text>
<line x1="212.60" y1="329.40" x2="212.60" y2="346.00" stroke="#000" stroke-width="0.55" />
<polygon points="212.60,329.40 213.50,332.60 211.70,332.60" fill="#000"/>
<polygon points="212.60,346.00 211.70,342.80 213.50,342.80" fill="#000"/>
<text x="0.00" y="0.00" font-size="6" font-style="italic" text-anchor="middle" fill="#111" transform="translate(211.20 336.50) rotate(-90) scale(0.8 1)" textLength="11.88" lengthAdjust="spacing" >125</text>
<line x1="254.60" y1="332.50" x2="278.50" y2="332.50" stroke="#000" stroke-width="0.55" />
<line x1="254.60" y1="360.30" x2="278.50" y2="360.30" stroke="#000" stroke-width="0.55" />
<line x1="261.30" y1="325.90" x2="291.50" y2="325.90" stroke="#000" stroke-width="0.55" />
<line x1="261.30" y1="366.30" x2="291.50" y2="366.30" stroke="#000" stroke-width="0.55" />
<line x1="276.70" y1="332.50" x2="276.70" y2="360.30" stroke="#000" stroke-width="0.55" />
<polygon points="276.70,332.50 277.60,335.70 275.80,335.70" fill="#000"/>
<polygon points="276.70,360.30 275.80,357.10 277.60,357.10" fill="#000"/>
<text x="0.00" y="0.00" font-size="6.2" font-style="italic" text-anchor="middle" fill="#111" transform="translate(275.20 342.50) rotate(-90) scale(0.8 1)" textLength="11.88" lengthAdjust="spacing" >200</text>
<rect x="271.40" y="349.30" width="3.60" height="3.60" rx="0" fill="none" stroke="#000" stroke-width="0.6"/>
<line x1="289.80" y1="325.90" x2="289.80" y2="366.30" stroke="#000" stroke-width="0.55" />
<polygon points="289.80,325.90 290.70,329.10 288.90,329.10" fill="#000"/>
<polygon points="289.80,366.30 288.90,363.10 290.70,363.10" fill="#000"/>
<text x="0.00" y="0.00" font-size="6.2" font-style="italic" text-anchor="middle" fill="#111" transform="translate(288.30 342.50) rotate(-90) scale(0.8 1)" textLength="11.88" lengthAdjust="spacing" >300</text>
<rect x="284.50" y="349.30" width="3.60" height="3.60" rx="0" fill="none" stroke="#000" stroke-width="0.6"/>
<line x1="224.00" y1="364.00" x2="224.00" y2="389.00" stroke="#000" stroke-width="0.55" />
<line x1="240.60" y1="364.00" x2="240.60" y2="389.00" stroke="#000" stroke-width="0.55" />
<line x1="258.20" y1="364.00" x2="258.20" y2="389.00" stroke="#000" stroke-width="0.55" />
<line x1="224.00" y1="375.80" x2="240.60" y2="375.80" stroke="#000" stroke-width="0.55" />
<polygon points="224.00,375.80 227.20,374.90 227.20,376.70" fill="#000"/>
<polygon points="240.60,375.80 237.40,376.70 237.40,374.90" fill="#000"/>
<text x="0.00" y="0.00" font-size="6" font-style="italic" text-anchor="middle" fill="#111" transform="translate(232.60 374.90) scale(0.7 1)" textLength="11.14" lengthAdjust="spacing" >125</text>
<line x1="224.00" y1="387.60" x2="258.20" y2="387.60" stroke="#000" stroke-width="0.55" />
<polygon points="224.00,387.60 227.20,386.70 227.20,388.50" fill="#000"/>
<polygon points="258.20,387.60 255.00,388.50 255.00,386.70" fill="#000"/>
<text x="0.00" y="0.00" font-size="6" font-style="italic" text-anchor="middle" fill="#111" transform="translate(241.60 387.00) scale(0.8 1)" textLength="37.12" lengthAdjust="spacingAndGlyphs" >2×125=250</text>
<ellipse cx="531.90" cy="85.40" rx="11.90" ry="7.00" fill="none" stroke="#000" stroke-width="1.2"/>
<ellipse cx="531.90" cy="85.60" rx="10.60" ry="6.00" fill="none" stroke="#000" stroke-width="0.5"/>
<ellipse cx="532.10" cy="86.20" rx="8.60" ry="4.80" fill="none" stroke="#000" stroke-width="1.1"/>
<path d="M523.3,91.3 C523.2,97 525.5,101 528.7,101 C531.8,101 534.3,97.5 534.6,93.6" fill="none" stroke="#000" stroke-width="1.1" />
<polyline points="520.20,86.60 507.00,92.50 523.60,91.20" fill="none" stroke="#000" stroke-width="1.1" stroke-linejoin="round"/>
<line x1="535.20" y1="93.60" x2="542.00" y2="112.30" stroke="#000" stroke-width="1.1" />
<line x1="541.00" y1="93.00" x2="556.50" y2="104.50" stroke="#000" stroke-width="1.1" />
<polyline points="507.00,92.50 542.00,112.30 556.50,104.50" fill="none" stroke="#000" stroke-width="1.1" stroke-linejoin="round"/>
<line x1="507.00" y1="92.50" x2="507.00" y2="109.20" stroke="#000" stroke-width="1.1" />
<line x1="542.00" y1="112.30" x2="542.00" y2="127.80" stroke="#000" stroke-width="1.1" />
<line x1="556.50" y1="104.50" x2="556.50" y2="121.60" stroke="#000" stroke-width="1.1" />
<polyline points="507.00,109.20 542.00,127.80 556.50,121.60" fill="none" stroke="#000" stroke-width="1.1" stroke-linejoin="round"/>
<path d="M510.6,118.5 Q510.8,114.5 513,113.6 L534.5,125.4" fill="none" stroke="#000" stroke-width="1.4" />
<path d="M512.6,117.2 L530.5,126.8" fill="none" stroke="#000" stroke-width="0.9" />
<line x1="514.50" y1="114.42" x2="514.50" y2="117.42" stroke="#000" stroke-width="0.9" />
<line x1="518.50" y1="116.62" x2="518.50" y2="119.62" stroke="#000" stroke-width="0.9" />
<line x1="522.50" y1="118.82" x2="522.50" y2="121.82" stroke="#000" stroke-width="0.9" />
<line x1="526.50" y1="121.01" x2="526.50" y2="124.01" stroke="#000" stroke-width="0.9" />
<line x1="530.50" y1="123.21" x2="530.50" y2="126.21" stroke="#000" stroke-width="0.9" />
<path d="M534.5,128.6 Q536,127 540,128.4 M541.5,128.9 Q548,125.6 552.5,126.5 L553.1,130" fill="none" stroke="#000" stroke-width="1.3" />
<path d="M521.3,119.5 L521.3,122.5 M527.8,122.8 L527.8,127.8" fill="none" stroke="#000" stroke-width="0.8" />
<path d="M510.6,157.6 L510.6,123 Q510.8,119.6 513.5,118.6" fill="none" stroke="#000" stroke-width="1.1" />
<line x1="531.90" y1="141.80" x2="531.90" y2="157.20" stroke="#000" stroke-width="1.1" />
<path d="M510.6,157.6 Q521,161.6 531.9,157.2" fill="none" stroke="#000" stroke-width="1.1" />
<rect x="513.60" y="122.60" width="7.60" height="12.60" rx="1.8" fill="#fff" stroke="#000" stroke-width="1.3"/>
<rect x="514.60" y="123.60" width="5.60" height="10.60" rx="0" fill="none" stroke="#000" stroke-width="0.5"/>
<rect x="515.70" y="125.10" width="3.60" height="7.80" rx="0" fill="none" stroke="#000" stroke-width="1.0"/>
<rect x="524.60" y="128.20" width="7.40" height="12.80" rx="1.8" fill="#fff" stroke="#000" stroke-width="1.3"/>
<rect x="525.60" y="129.20" width="5.40" height="10.80" rx="0" fill="none" stroke="#000" stroke-width="0.5"/>
<rect x="526.60" y="131.20" width="3.50" height="7.40" rx="0" fill="none" stroke="#000" stroke-width="1.0"/>
<line x1="512.10" y1="125.00" x2="512.10" y2="157.80" stroke="#000" stroke-width="0.6" />
<path d="M521.3,119 L524,118.6 L527.6,121 L527.6,127.5 M521.5,121.5 L521.5,126" fill="none" stroke="#000" stroke-width="0.9" />
<line x1="529.20" y1="141.00" x2="529.20" y2="157.50" stroke="#000" stroke-width="0.7" />
<line x1="522.00" y1="125.00" x2="525.00" y2="127.00" stroke="#000" stroke-width="0.7" />
<line x1="522.00" y1="133.20" x2="525.00" y2="135.30" stroke="#000" stroke-width="0.7" />
<path d="M534.2,130.8 L534.2,137 Q534.4,142.4 543.3,142.4 Q552.2,142.4 552.2,137 L552.2,130.8" fill="none" stroke="#000" stroke-width="1.3" />
<path d="M535.6,131.5 L535.6,136.5 Q535.8,141 543.3,141 Q550.8,141 550.8,136.5 L550.8,131.5" fill="none" stroke="#000" stroke-width="0.5" />
<line x1="533.20" y1="136.00" x2="533.20" y2="171.00" stroke="#000" stroke-width="1.1" />
<line x1="553.10" y1="130.00" x2="553.10" y2="171.00" stroke="#000" stroke-width="1.1" />
<path d="M533.2,171 Q543,175.4 553.1,171" fill="none" stroke="#000" stroke-width="1.1" />
<path d="M510.8,157.8 L512.4,166.5 Q521,170 529.4,166.3 L530.6,157.4" fill="none" stroke="#000" stroke-width="1.1" />
<line x1="512.40" y1="166.60" x2="516.90" y2="186.50" stroke="#000" stroke-width="1.1" />
<line x1="529.40" y1="166.40" x2="525.60" y2="186.50" stroke="#000" stroke-width="1.1" />
<line x1="514.20" y1="169.00" x2="517.80" y2="186.50" stroke="#333" stroke-width="0.4" />
<line x1="516.40" y1="169.00" x2="519.20" y2="186.50" stroke="#333" stroke-width="0.7" />
<line x1="518.80" y1="169.00" x2="520.20" y2="186.50" stroke="#333" stroke-width="0.4" />
<line x1="521.10" y1="169.00" x2="521.20" y2="186.50" stroke="#333" stroke-width="0.6" />
<line x1="523.40" y1="169.00" x2="522.40" y2="186.50" stroke="#333" stroke-width="0.4" />
<line x1="525.60" y1="169.00" x2="523.60" y2="186.50" stroke="#333" stroke-width="0.7" />
<line x1="527.60" y1="169.00" x2="524.80" y2="186.50" stroke="#333" stroke-width="0.4" />
<line x1="521.20" y1="160.50" x2="521.20" y2="168.00" stroke="#000" stroke-width="0.7" />
<path d="M533.2,171.2 L535,179.4 Q543,183 551.2,179.2 L552.8,171.2" fill="none" stroke="#000" stroke-width="1.1" />
<line x1="535.00" y1="179.50" x2="538.00" y2="198.50" stroke="#000" stroke-width="1.1" />
<line x1="551.20" y1="179.30" x2="548.00" y2="198.50" stroke="#000" stroke-width="1.1" />
<line x1="537.20" y1="182.00" x2="539.60" y2="198.50" stroke="#333" stroke-width="0.4" />
<line x1="539.60" y1="182.00" x2="541.20" y2="198.50" stroke="#333" stroke-width="0.7" />
<line x1="542.00" y1="182.00" x2="542.60" y2="198.50" stroke="#333" stroke-width="0.4" />
<line x1="544.60" y1="182.00" x2="544.20" y2="198.50" stroke="#333" stroke-width="0.7" />
<line x1="547.00" y1="182.00" x2="545.60" y2="198.50" stroke="#333" stroke-width="0.4" />
<line x1="549.20" y1="182.00" x2="547.00" y2="198.50" stroke="#333" stroke-width="0.6" />
<path d="M507.5,185.5 L513.8,181.8 M507.5,185.5 L541.9,204.3 L556.9,198 L550,194.2" fill="none" stroke="#000" stroke-width="1.1" />
<line x1="507.50" y1="185.50" x2="507.50" y2="192.40" stroke="#000" stroke-width="1.1" />
<line x1="541.90" y1="204.30" x2="541.90" y2="211.60" stroke="#000" stroke-width="1.1" />
<line x1="556.90" y1="198.00" x2="556.90" y2="205.00" stroke="#000" stroke-width="1.1" />
<polyline points="507.50,192.40 541.90,211.60 556.90,205.00" fill="none" stroke="#000" stroke-width="1.1" stroke-linejoin="round"/>
<ellipse cx="521.30" cy="185.40" rx="6.20" ry="2.60" fill="none" stroke="#000" stroke-width="1.0"/>
<ellipse cx="521.30" cy="185.30" rx="7.80" ry="3.40" fill="none" stroke="#000" stroke-width="0.6"/>
<ellipse cx="542.80" cy="197.40" rx="6.20" ry="2.60" fill="none" stroke="#000" stroke-width="1.0"/>
<ellipse cx="542.80" cy="197.30" rx="7.80" ry="3.40" fill="none" stroke="#000" stroke-width="0.6"/>
<polygon points="496.90,196.10 504.40,191.60 510.60,199.20 505.60,201.80" fill="#fff" stroke="#000" stroke-width="1.0" stroke-linejoin="round"/>
<polygon points="500.80,198.90 503.60,194.70 506.40,198.90" fill="#111" stroke="#000" stroke-width="0.5" stroke-linejoin="round"/>
<polygon points="502.30,198.20 503.60,196.40 504.90,198.20" fill="#fff" stroke="#000" stroke-width="0.2" stroke-linejoin="round"/>
<circle cx="499.40" cy="197.60" r="0.90" fill="#111" stroke="#000" stroke-width="0" />
<circle cx="507.80" cy="197.60" r="0.90" fill="#111" stroke="#000" stroke-width="0" />
<polygon points="532.50,216.10 541.90,211.30 550.60,215.50 541.90,221.10" fill="#fff" stroke="#000" stroke-width="1.0" stroke-linejoin="round"/>
<polygon points="539.10,217.80 541.90,213.60 544.70,217.80" fill="#111" stroke="#000" stroke-width="0.5" stroke-linejoin="round"/>
<polygon points="540.60,217.10 541.90,215.30 543.20,217.10" fill="#fff" stroke="#000" stroke-width="0.2" stroke-linejoin="round"/>
<circle cx="537.70" cy="216.50" r="0.90" fill="#111" stroke="#000" stroke-width="0" />
<circle cx="546.10" cy="216.50" r="0.90" fill="#111" stroke="#000" stroke-width="0" />
<polygon points="553.70,209.20 558.70,203.60 566.30,208.00 560.00,212.40" fill="#fff" stroke="#000" stroke-width="1.0" stroke-linejoin="round"/>
<polygon points="557.20,209.70 560.00,205.50 562.80,209.70" fill="#111" stroke="#000" stroke-width="0.5" stroke-linejoin="round"/>
<polygon points="558.70,209.00 560.00,207.20 561.30,209.00" fill="#fff" stroke="#000" stroke-width="0.2" stroke-linejoin="round"/>
<circle cx="555.80" cy="208.40" r="0.90" fill="#111" stroke="#000" stroke-width="0" />
<circle cx="564.20" cy="208.40" r="0.90" fill="#111" stroke="#000" stroke-width="0" />
<line x1="509.40" y1="201.20" x2="519.30" y2="235.00" stroke="#000" stroke-width="1.1" />
<line x1="540.00" y1="220.50" x2="531.70" y2="243.00" stroke="#000" stroke-width="1.1" />
<line x1="550.00" y1="218.00" x2="543.70" y2="235.00" stroke="#000" stroke-width="1.1" />
<polyline points="516.50,235.50 531.50,243.40 546.50,235.40" fill="none" stroke="#000" stroke-width="1.1" stroke-linejoin="round"/>
<line x1="516.50" y1="235.50" x2="520.20" y2="233.50" stroke="#000" stroke-width="1.1" />
<line x1="546.50" y1="235.40" x2="543.30" y2="233.70" stroke="#000" stroke-width="1.1" />
<polygon points="519.20,236.50 520.50,234.50 521.80,236.80" fill="#000" stroke="#000" stroke-width="0.5" stroke-linejoin="round"/>
<polygon points="541.20,236.80 542.50,234.50 543.80,236.50" fill="#000" stroke="#000" stroke-width="0.5" stroke-linejoin="round"/>
</svg></body></html>
